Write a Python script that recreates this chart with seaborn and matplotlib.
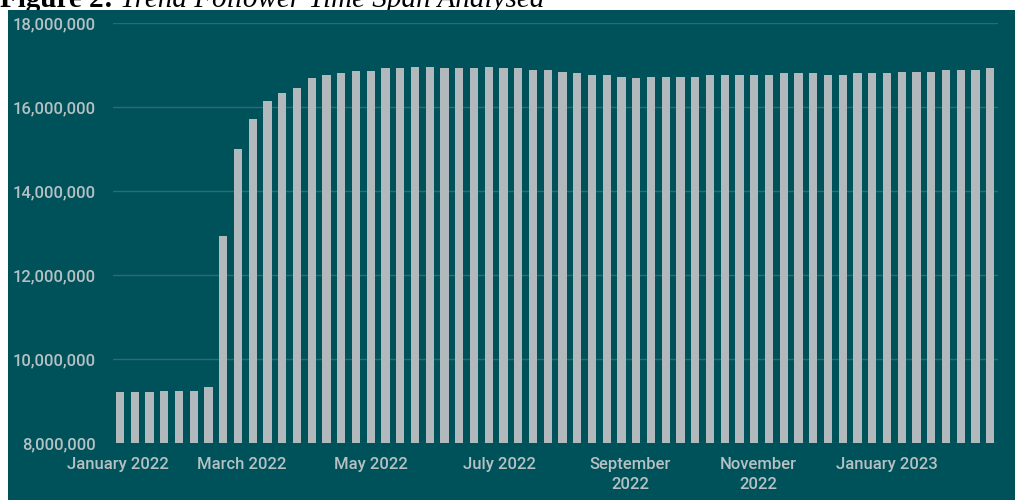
import matplotlib
matplotlib.use("Agg")
import matplotlib.pyplot as plt
import seaborn as sns
import pandas as pd
import numpy as np
from matplotlib.patches import Rectangle
from matplotlib.ticker import FuncFormatter

# ---------------- data ----------------
week_start = "2022-01-02"          # first weekly bar
followers_m = [                     # followers, millions, one value per week
    9.21, 9.21, 9.21, 9.25, 9.25, 9.25, 9.33, 12.93, 14.99, 15.72,
    16.14, 16.34, 16.46, 16.69, 16.77, 16.81, 16.85, 16.85, 16.92, 16.92,
    16.96, 16.96, 16.92, 16.92, 16.92, 16.96, 16.92, 16.92, 16.88, 16.88,
    16.84, 16.80, 16.76, 16.76, 16.72, 16.68, 16.72, 16.72, 16.72, 16.72,
    16.76, 16.76, 16.76, 16.76, 16.76, 16.80, 16.80, 16.80, 16.76, 16.76,
    16.80, 16.80, 16.80, 16.84, 16.84, 16.84, 16.88, 16.88, 16.88, 16.92,
]
month_starts = ["2022-01-01", "2022-03-01", "2022-05-01", "2022-07-01",
                "2022-09-01", "2022-11-01", "2023-01-01"]
month_labels = ["January 2022", "March 2022", "May 2022", "July 2022",
                "September\n2022", "November\n2022", "January 2023"]
y_ticks = [8e6, 10e6, 12e6, 14e6, 16e6, 18e6]

# ---------------- style ----------------
TEAL = "#00525a"
BAR = "#b2b9bd"
GRID = "#2c6b71"
TICK = "#b6c1c3"

weeks = pd.date_range(week_start, periods=len(followers_m), freq="7D")
df = pd.DataFrame({"week": weeks.strftime("%Y-%m-%d"),
                   "followers": np.array(followers_m) * 1e6})

sns.set_theme(style="dark")
plt.rcParams["font.family"] = ["Roboto", "DejaVu Sans"]

W, H = 1015, 500
fig = plt.figure(figsize=(W / 100, H / 100), dpi=100)
fig.patch.set_facecolor("white")
fig.patches.append(Rectangle((8 / W, 0), 1 - 8 / W, 490 / H,
                             transform=fig.transFigure, facecolor=TEAL,
                             edgecolor="none", zorder=-1))

ax = fig.add_axes([112.6 / W, 57 / H, 885 / W, 420 / H])
ax.set_facecolor("none")

sns.barplot(data=df, x="week", y="followers", color=BAR, width=0.55,
            saturation=1, ax=ax, zorder=3, linewidth=0, edgecolor="none")

ax.set_ylim(8e6, 18e6)
ax.set_xlim(-0.5, len(followers_m) - 0.5)
ax.set_yticks(y_ticks)
ax.yaxis.set_major_formatter(FuncFormatter(lambda v, p: f"{v:,.0f}"))

t0 = pd.Timestamp(week_start)
tick_pos = [(pd.Timestamp(d) - t0).days / 7 for d in month_starts]
ax.set_xticks(tick_pos)
ax.set_xticklabels(month_labels, linespacing=1.4)

ax.set_xlabel("")
ax.set_ylabel("")
ax.yaxis.grid(True, color=GRID, linewidth=1.0, zorder=0)
ax.xaxis.grid(False)
for s in ax.spines.values():
    s.set_visible(False)
ax.tick_params(axis="both", length=0, colors=TICK, labelsize=12)
for lbl in ax.get_xticklabels() + ax.get_yticklabels():
    lbl.set_fontweight("medium")
ax.tick_params(axis="y", pad=12)
ax.tick_params(axis="x", pad=10)

# ---------------- title (cropped at the top, as in the reference) ----------------
t1 = fig.text(0.0, 1 - 7 / H, "Figure 2:", family="Liberation Serif",
              fontweight="bold", fontsize=21, color="black",
              va="baseline", ha="left", zorder=-2)
fig.canvas.draw()
bb = t1.get_window_extent()
fig.text((bb.x1 + 7) / W, 1 - 7 / H, "Trend Follower Time Span Analysed",
         family="Liberation Serif", fontstyle="italic", fontsize=21,
         color="black", va="baseline", ha="left", zorder=-2)

fig.savefig("out.png", dpi=100, facecolor="white")
